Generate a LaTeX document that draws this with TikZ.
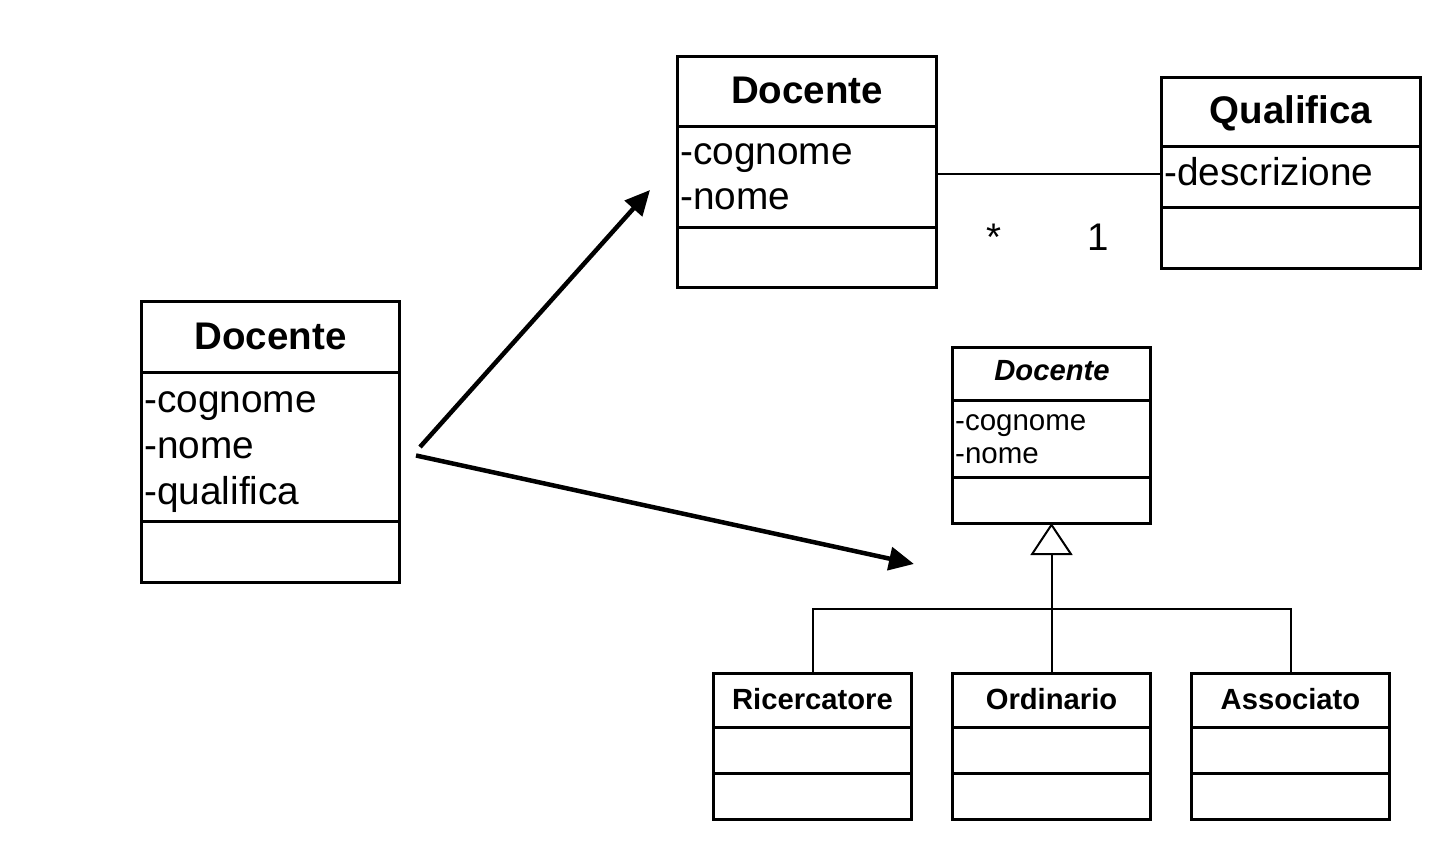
\documentclass[tikz,border=0pt]{standalone}
\usepackage{fontspec}
\setmainfont{Liberation Sans}
\usetikzlibrary{arrows.meta}
\tikzset{
  cls/.style={draw, line width=3pt, rectangle, inner sep=0pt, outer sep=0pt, anchor=north west},
  divider/.style={line width=3pt},
  bigtitle/.style={inner sep=0pt, anchor=base, font=\fontsize{38.5}{44}\selectfont\bfseries},
  bigattr/.style={inner sep=0pt, anchor=base west, font=\fontsize{38.8}{44}\selectfont},
  smalltitle/.style={inner sep=0pt, anchor=base, font=\fontsize{29.2}{34}\selectfont\bfseries},
  smallattr/.style={inner sep=0pt, anchor=base west, font=\fontsize{29.5}{34}\selectfont},
  mult/.style={inner sep=0pt, anchor=base, font=\fontsize{38.5}{44}\selectfont},
  thinline/.style={line width=2pt},
  bigarrow/.style={line width=4.5pt, -{Triangle[length=25pt,width=23pt]}},
  genarrow/.style={line width=2pt, -{Triangle[open,length=32pt,width=42pt]}}
}
\begin{document}
\begin{tikzpicture}[x=1pt,y=-1pt]
\useasboundingbox (0,0) rectangle (1456,850);
% left Docente
\node[cls, minimum width=258pt, minimum height=280pt] (L) at (141,302) {};
\draw[divider] (L.west |- 0,372) -- (L.east |- 0,372);
\draw[divider] (L.west |- 0,521) -- (L.east |- 0,521);
\node[bigtitle] (Lt) at (270.5,349) {Docente};
\node[bigattr] (L1) at (144,412) {-cognome};
\node[bigattr] (L2) at (144,458) {-nome};
\node[bigattr] (L3) at (144,504) {-qualifica};
% top Docente
\node[cls, minimum width=259pt, minimum height=231pt] (T) at (677,57) {};
\draw[divider] (T.west |- 0,127) -- (T.east |- 0,127);
\draw[divider] (T.west |- 0,228) -- (T.east |- 0,228);
\node[bigtitle] (Tt) at (807,104) {Docente};
\node[bigattr] (T1) at (680,165) {-cognome};
\node[bigattr] (T2) at (680,210) {-nome};
% Qualifica
\node[cls, minimum width=259pt, minimum height=191pt] (Q) at (1161.5,78) {};
\draw[divider] (Q.west |- 0,147) -- (Q.east |- 0,147);
\draw[divider] (Q.west |- 0,207.5) -- (Q.east |- 0,207.5);
\node[bigtitle] (Qt) at (1291,123.5) {Qualifica};
\node[bigattr] (Q1) at (1164,185.5) {-descrizione};
% association
\coordinate (a1) at (T.east |- 0,174);
\draw[thinline] (a1) -- (a1 -| Q.west);
\node[mult] (m1) at (994,251) {*};
\node[mult] (m2) at (1098,251) {1};
% abstract Docente
\node[cls, minimum width=198pt, minimum height=176pt] (A) at (952.5,347) {};
\draw[divider] (A.west |- 0,400.5) -- (A.east |- 0,400.5);
\draw[divider] (A.west |- 0,477) -- (A.east |- 0,477);
\node[smalltitle, font=\fontsize{29.2}{34}\selectfont\bfseries\itshape] (At) at (1052,380.5) {Docente};
\node[smallattr] (A1) at (955,430.5) {-cognome};
\node[smallattr] (A2) at (955,463) {-nome};
% subclasses
\node[cls, minimum width=198pt, minimum height=146pt] (R) at (713.5,673.5) {};
\draw[divider] (R.west |- 0,727) -- (R.east |- 0,727);
\draw[divider] (R.west |- 0,773) -- (R.east |- 0,773);
\node[smalltitle] (Rt) at (812.5,709) {Ricercatore};
\node[cls, minimum width=198pt, minimum height=146pt] (O) at (952.5,673.5) {};
\draw[divider] (O.west |- 0,727) -- (O.east |- 0,727);
\draw[divider] (O.west |- 0,773) -- (O.east |- 0,773);
\node[smalltitle] (Ot) at (1051.5,709) {Ordinario};
\node[cls, minimum width=198pt, minimum height=146pt] (S) at (1191.5,673.5) {};
\draw[divider] (S.west |- 0,727) -- (S.east |- 0,727);
\draw[divider] (S.west |- 0,773) -- (S.east |- 0,773);
\node[smalltitle] (St) at (1290.5,709) {Associato};
% generalization
\coordinate (J) at (1051.5,609);
\draw[thinline] (R.north) |- (J) -| (S.north);
\draw[thinline] (O.north) -- (J);
\draw[genarrow] (J) -- (A.south);
% transformation arrows
\coordinate (s1) at (420,447);
\coordinate (e1) at (650,190);
\coordinate (s2) at (416,455.5);
\coordinate (e2) at (914,564);
\draw[bigarrow] (s1) -- (e1);
\draw[bigarrow] (s2) -- (e2);
\end{tikzpicture}
\end{document}
